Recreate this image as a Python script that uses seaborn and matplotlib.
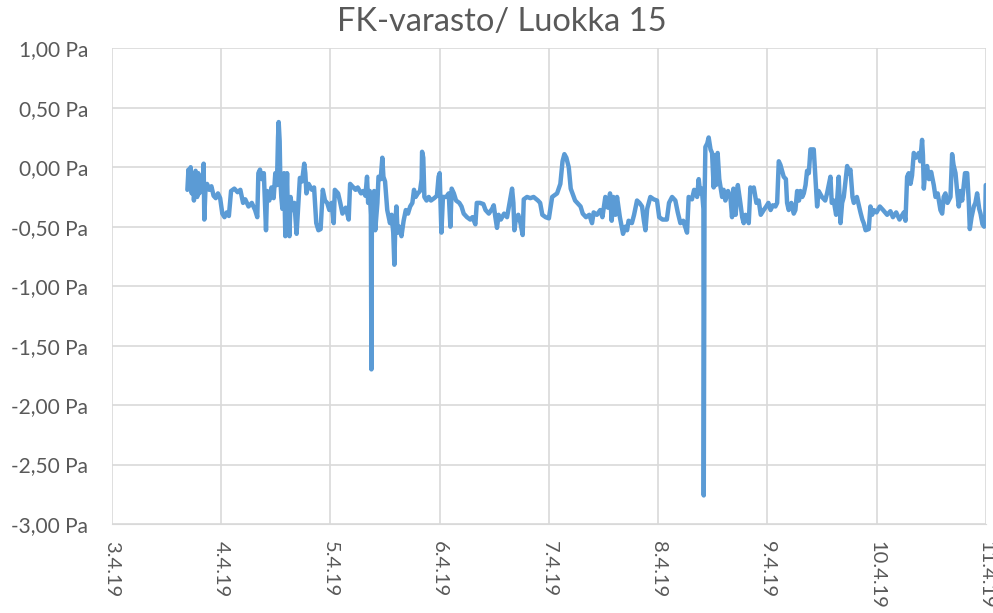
import pandas as pd
import matplotlib
matplotlib.use("Agg")
import matplotlib.pyplot as plt
import matplotlib.dates as mdates
from matplotlib.ticker import FuncFormatter
import seaborn as sns

# days since 3.4.2019 00:00
days = [0.69, 0.70, 0.71, 0.72, 0.73, 0.745, 0.75, 0.765, 0.78, 0.79, 0.80, 0.815, 0.83, 0.839, 0.845, 0.855,
        0.87, 0.89, 0.91, 0.93, 0.95, 0.97, 0.99, 1.01, 1.03, 1.05, 1.07, 1.09, 1.12, 1.15, 1.175, 1.20,
        1.22, 1.25, 1.28, 1.31, 1.33, 1.34, 1.355, 1.37, 1.39, 1.41, 1.42, 1.44, 1.46, 1.48, 1.495, 1.51,
        1.52, 1.526, 1.535, 1.541, 1.55, 1.56, 1.575, 1.587, 1.595, 1.603, 1.61, 1.625, 1.635, 1.65, 1.67,
        1.69, 1.70, 1.72, 1.74, 1.76, 1.77, 1.78, 1.80, 1.83, 1.85, 1.87, 1.89, 1.91, 1.93, 1.95, 1.97,
        1.99, 2.01, 2.03, 2.04, 2.07, 2.09, 2.11, 2.14, 2.167, 2.18, 2.20, 2.23, 2.25, 2.28, 2.30, 2.32,
        2.335, 2.345, 2.36, 2.37, 2.375, 2.38, 2.39, 2.40,
        2.41, 2.43, 2.44, 2.46, 2.475, 2.485, 2.50, 2.52, 2.545, 2.56, 2.575, 2.585, 2.595, 2.604, 2.615,
        2.63, 2.65, 2.67, 2.69, 2.71, 2.73, 2.75, 2.765, 2.78, 2.80, 2.82, 2.835, 2.839, 2.85, 2.86, 2.88,
        2.90, 2.92, 2.95, 2.975, 2.99, 3.00, 3.016, 3.03, 3.06, 3.083, 3.098, 3.11, 3.13, 3.15, 3.18, 3.20,
        3.22, 3.25, 3.28, 3.30, 3.327, 3.34, 3.37, 3.40, 3.42, 3.45, 3.48, 3.495, 3.51, 3.525, 3.54, 3.56,
        3.59, 3.617, 3.64, 3.663, 3.675, 3.684, 3.70, 3.72, 3.74, 3.76, 3.77, 3.80, 3.83, 3.86, 3.90, 3.92,
        3.94, 3.97, 4.00, 4.03, 4.075, 4.105, 4.125, 4.142, 4.16, 4.182, 4.20, 4.24, 4.29,
        4.31, 4.34, 4.37, 4.395, 4.41, 4.44, 4.47, 4.49, 4.517, 4.54, 4.56, 4.575, 4.59, 4.61, 4.624, 4.65,
        4.679, 4.70, 4.716, 4.73, 4.76, 4.78, 4.807, 4.83, 4.853, 4.87, 4.884, 4.90, 4.929, 4.96, 4.99,
        5.01, 5.04, 5.08, 5.10, 5.128, 5.158, 5.18, 5.204, 5.23, 5.265, 5.28, 5.31, 5.33, 5.357, 5.372,
        5.385, 5.40, 5.415, 5.418, 5.425, 5.433, 5.45, 5.463, 5.48, 5.494, 5.509, 5.52, 5.53, 5.545, 5.56,
        5.586, 5.60, 5.616, 5.64, 5.662, 5.677, 5.69, 5.71, 5.73, 5.753, 5.77, 5.784, 5.80, 5.83, 5.845,
        5.86, 5.876, 5.90, 5.921, 5.94, 5.967, 5.99,
        6.01, 6.03, 6.05, 6.074, 6.09, 6.105, 6.12, 6.135, 6.15, 6.17, 6.181, 6.196, 6.22, 6.242, 6.257,
        6.273, 6.29, 6.303, 6.32, 6.334, 6.35, 6.364, 6.38, 6.395, 6.425, 6.441, 6.456, 6.47, 6.50, 6.53,
        6.547, 6.578, 6.59, 6.608, 6.63, 6.654, 6.670, 6.685, 6.70, 6.731, 6.745, 6.761, 6.78, 6.792, 6.82,
        6.853, 6.87, 6.883, 6.90, 6.929, 6.944, 6.96, 6.975, 7.00, 7.03, 7.06, 7.097, 7.127, 7.15, 7.18,
        7.21, 7.25, 7.265, 7.28, 7.295, 7.311, 7.325, 7.341, 7.36, 7.387, 7.40, 7.417, 7.425, 7.433, 7.445,
        7.463, 7.48, 7.50, 7.524, 7.54, 7.56, 7.585, 7.601, 7.615, 7.631, 7.65, 7.677, 7.692, 7.705, 7.723,
        7.74, 7.753, 7.77, 7.784, 7.81, 7.830, 7.845, 7.854, 7.87, 7.891, 7.905, 7.921, 7.94, 7.952, 7.97,
        7.985, 7.995, 8.00]

pa = [-0.19, -0.02, -0.15, 0.00, -0.22, -0.05, -0.28, -0.03, -0.25, -0.05, -0.22, -0.13, -0.18, 0.03, -0.44, -0.20,
      -0.14, -0.19, -0.16, -0.24, -0.26, -0.22, -0.26, -0.39, -0.42, -0.38, -0.41, -0.20, -0.18, -0.21, -0.19, -0.30,
      -0.27, -0.33, -0.30, -0.36, -0.42, -0.05, -0.02, -0.10, -0.05, -0.53, -0.20, -0.28, -0.17, -0.26, -0.05, -0.15,
      0.25, 0.38, 0.22, -0.10, -0.25, -0.35, -0.05, -0.58, -0.30, -0.05, -0.40, -0.58, -0.25, -0.36, -0.30,
      -0.56, -0.40, -0.09, -0.12, 0.03, -0.05, -0.22, -0.14, -0.19, -0.17, -0.47, -0.53, -0.52, -0.19, -0.28, -0.30,
      -0.36, -0.30, -0.47, -0.19, -0.22, -0.30, -0.39, -0.34, -0.44, -0.14, -0.16, -0.19, -0.17, -0.22, -0.20, -0.24,
      -0.08, -0.30, -0.20, -0.40, -1.70, -0.25, -0.45, -0.20,
      -0.53, -0.30, -0.08, -0.10, 0.08, -0.08, -0.12, -0.36, -0.47, -0.40, -0.55, -0.82, -0.45, -0.33, -0.55,
      -0.50, -0.58, -0.45, -0.36, -0.39, -0.33, -0.30, -0.19, -0.25, -0.22, -0.20, -0.10, 0.13, 0.08, -0.25, -0.28,
      -0.25, -0.28, -0.26, -0.24, -0.08, -0.05, -0.55, -0.25, -0.25, -0.22, -0.50, -0.18, -0.22, -0.28, -0.30, -0.33,
      -0.39, -0.42, -0.44, -0.42, -0.48, -0.30, -0.30, -0.31, -0.36, -0.39, -0.35, -0.32, -0.42, -0.51, -0.40, -0.44,
      -0.39, -0.42, -0.30, -0.18, -0.30, -0.53, -0.42, -0.40, -0.47, -0.57, -0.27, -0.25, -0.26, -0.25, -0.28, -0.30,
      -0.40, -0.42, -0.43, -0.25, -0.22, -0.14, 0.05, 0.11, 0.08, 0.00, -0.18, -0.28, -0.33,
      -0.39, -0.42, -0.40, -0.47, -0.38, -0.40, -0.36, -0.42, -0.25, -0.34, -0.22, -0.45, -0.25, -0.40, -0.25, -0.42,
      -0.56, -0.50, -0.53, -0.45, -0.47, -0.40, -0.28, -0.30, -0.33, -0.45, -0.53, -0.35, -0.25, -0.27, -0.28,
      -0.42, -0.44, -0.44, -0.30, -0.25, -0.28, -0.38, -0.47, -0.45, -0.55, -0.25, -0.27, -0.19, -0.25, -0.10,
      -0.22, -0.18, -0.35, -2.76, -0.30, 0.17, 0.20, 0.25, 0.15, 0.12, -0.17, 0.10, -0.15, 0.12, -0.10,
      -0.25, -0.19, -0.28, -0.20, -0.25, -0.42, -0.18, -0.40, -0.15, -0.30, -0.42, -0.47, -0.40, -0.47, -0.17,
      -0.20, -0.17, -0.30, -0.28, -0.40, -0.36, -0.33,
      -0.30, -0.36, -0.32, -0.33, -0.30, 0.05, 0.02, -0.03, -0.08, -0.10, -0.30, -0.36, -0.30, -0.39, -0.36,
      -0.20, -0.28, -0.20, -0.25, -0.22, -0.15, -0.03, -0.05, 0.15, 0.15, -0.09, -0.33, -0.20, -0.25, -0.28,
      -0.22, -0.08, -0.30, -0.28, -0.40, -0.08, -0.47, -0.30, -0.25, 0.01, -0.05, -0.02, -0.25, -0.30, -0.25,
      -0.38, -0.44, -0.47, -0.53, -0.52, -0.33, -0.40, -0.36, -0.38, -0.33, -0.36, -0.40, -0.37, -0.42, -0.38,
      -0.44, -0.38, -0.45, -0.08, -0.05, -0.14, -0.07, 0.12, 0.08, 0.12, 0.05, 0.23, 0.10, -0.18, -0.05,
      0.01, -0.10, -0.04, -0.15, -0.25, -0.22, -0.36, -0.39, -0.25, -0.22, -0.30, -0.25, 0.11, 0.02, -0.05,
      -0.22, -0.33, -0.20, -0.28, -0.05, -0.05, -0.30, -0.52, -0.42, -0.33, -0.30, -0.22, -0.35, -0.39, -0.48,
      -0.50, -0.46, -0.15]

start = pd.Timestamp("2019-04-03")
y_ticks = [1.0, 0.5, 0.0, -0.5, -1.0, -1.5, -2.0, -2.5, -3.0]

df = pd.DataFrame({"time": start + pd.to_timedelta(days, unit="D"), "pa": pa})

sns.set_style("white")
plt.rcParams["font.family"] = ["Lato", "DejaVu Sans"]

fig = plt.figure(figsize=(9.93, 6.13), dpi=100)
ax = fig.add_axes([0.1128, 0.1452, 0.8799, 0.776])

sns.lineplot(data=df, x="time", y="pa", color="#5B9BD5", linewidth=3.2, ax=ax)

ax.set_xlim(start, start + pd.Timedelta(days=8))
ax.set_ylim(-3, 1)
ax.set_yticks(y_ticks)
ax.yaxis.set_major_formatter(FuncFormatter(lambda v, p: f"{v:.2f}".replace(".", ",") + " Pa"))
ax.xaxis.set_major_locator(mdates.DayLocator())
ax.xaxis.set_major_formatter(FuncFormatter(
    lambda v, p: (lambda d: f"{d.day}.{d.month}.{d.strftime('%y')}")(mdates.num2date(v))))

ax.grid(True, color="#d9d9d9", linewidth=1.2)
for s in ax.spines.values():
    s.set_visible(False)
ax.spines["bottom"].set_visible(True)
ax.spines["bottom"].set_color("#d9d9d9")
ax.set_xlabel("")
ax.set_ylabel("")
ax.tick_params(axis="y", length=0, pad=17, labelsize=15, labelcolor="#595959")
ax.tick_params(axis="x", length=0, pad=12, labelsize=14.5, labelcolor="#595959", labelrotation=-90)

fig.suptitle("FK-varasto/ Luokka 15", x=0.505, y=0.964, va="center", fontsize=23.5, color="#595959")

fig.savefig("out.png", dpi=100)
